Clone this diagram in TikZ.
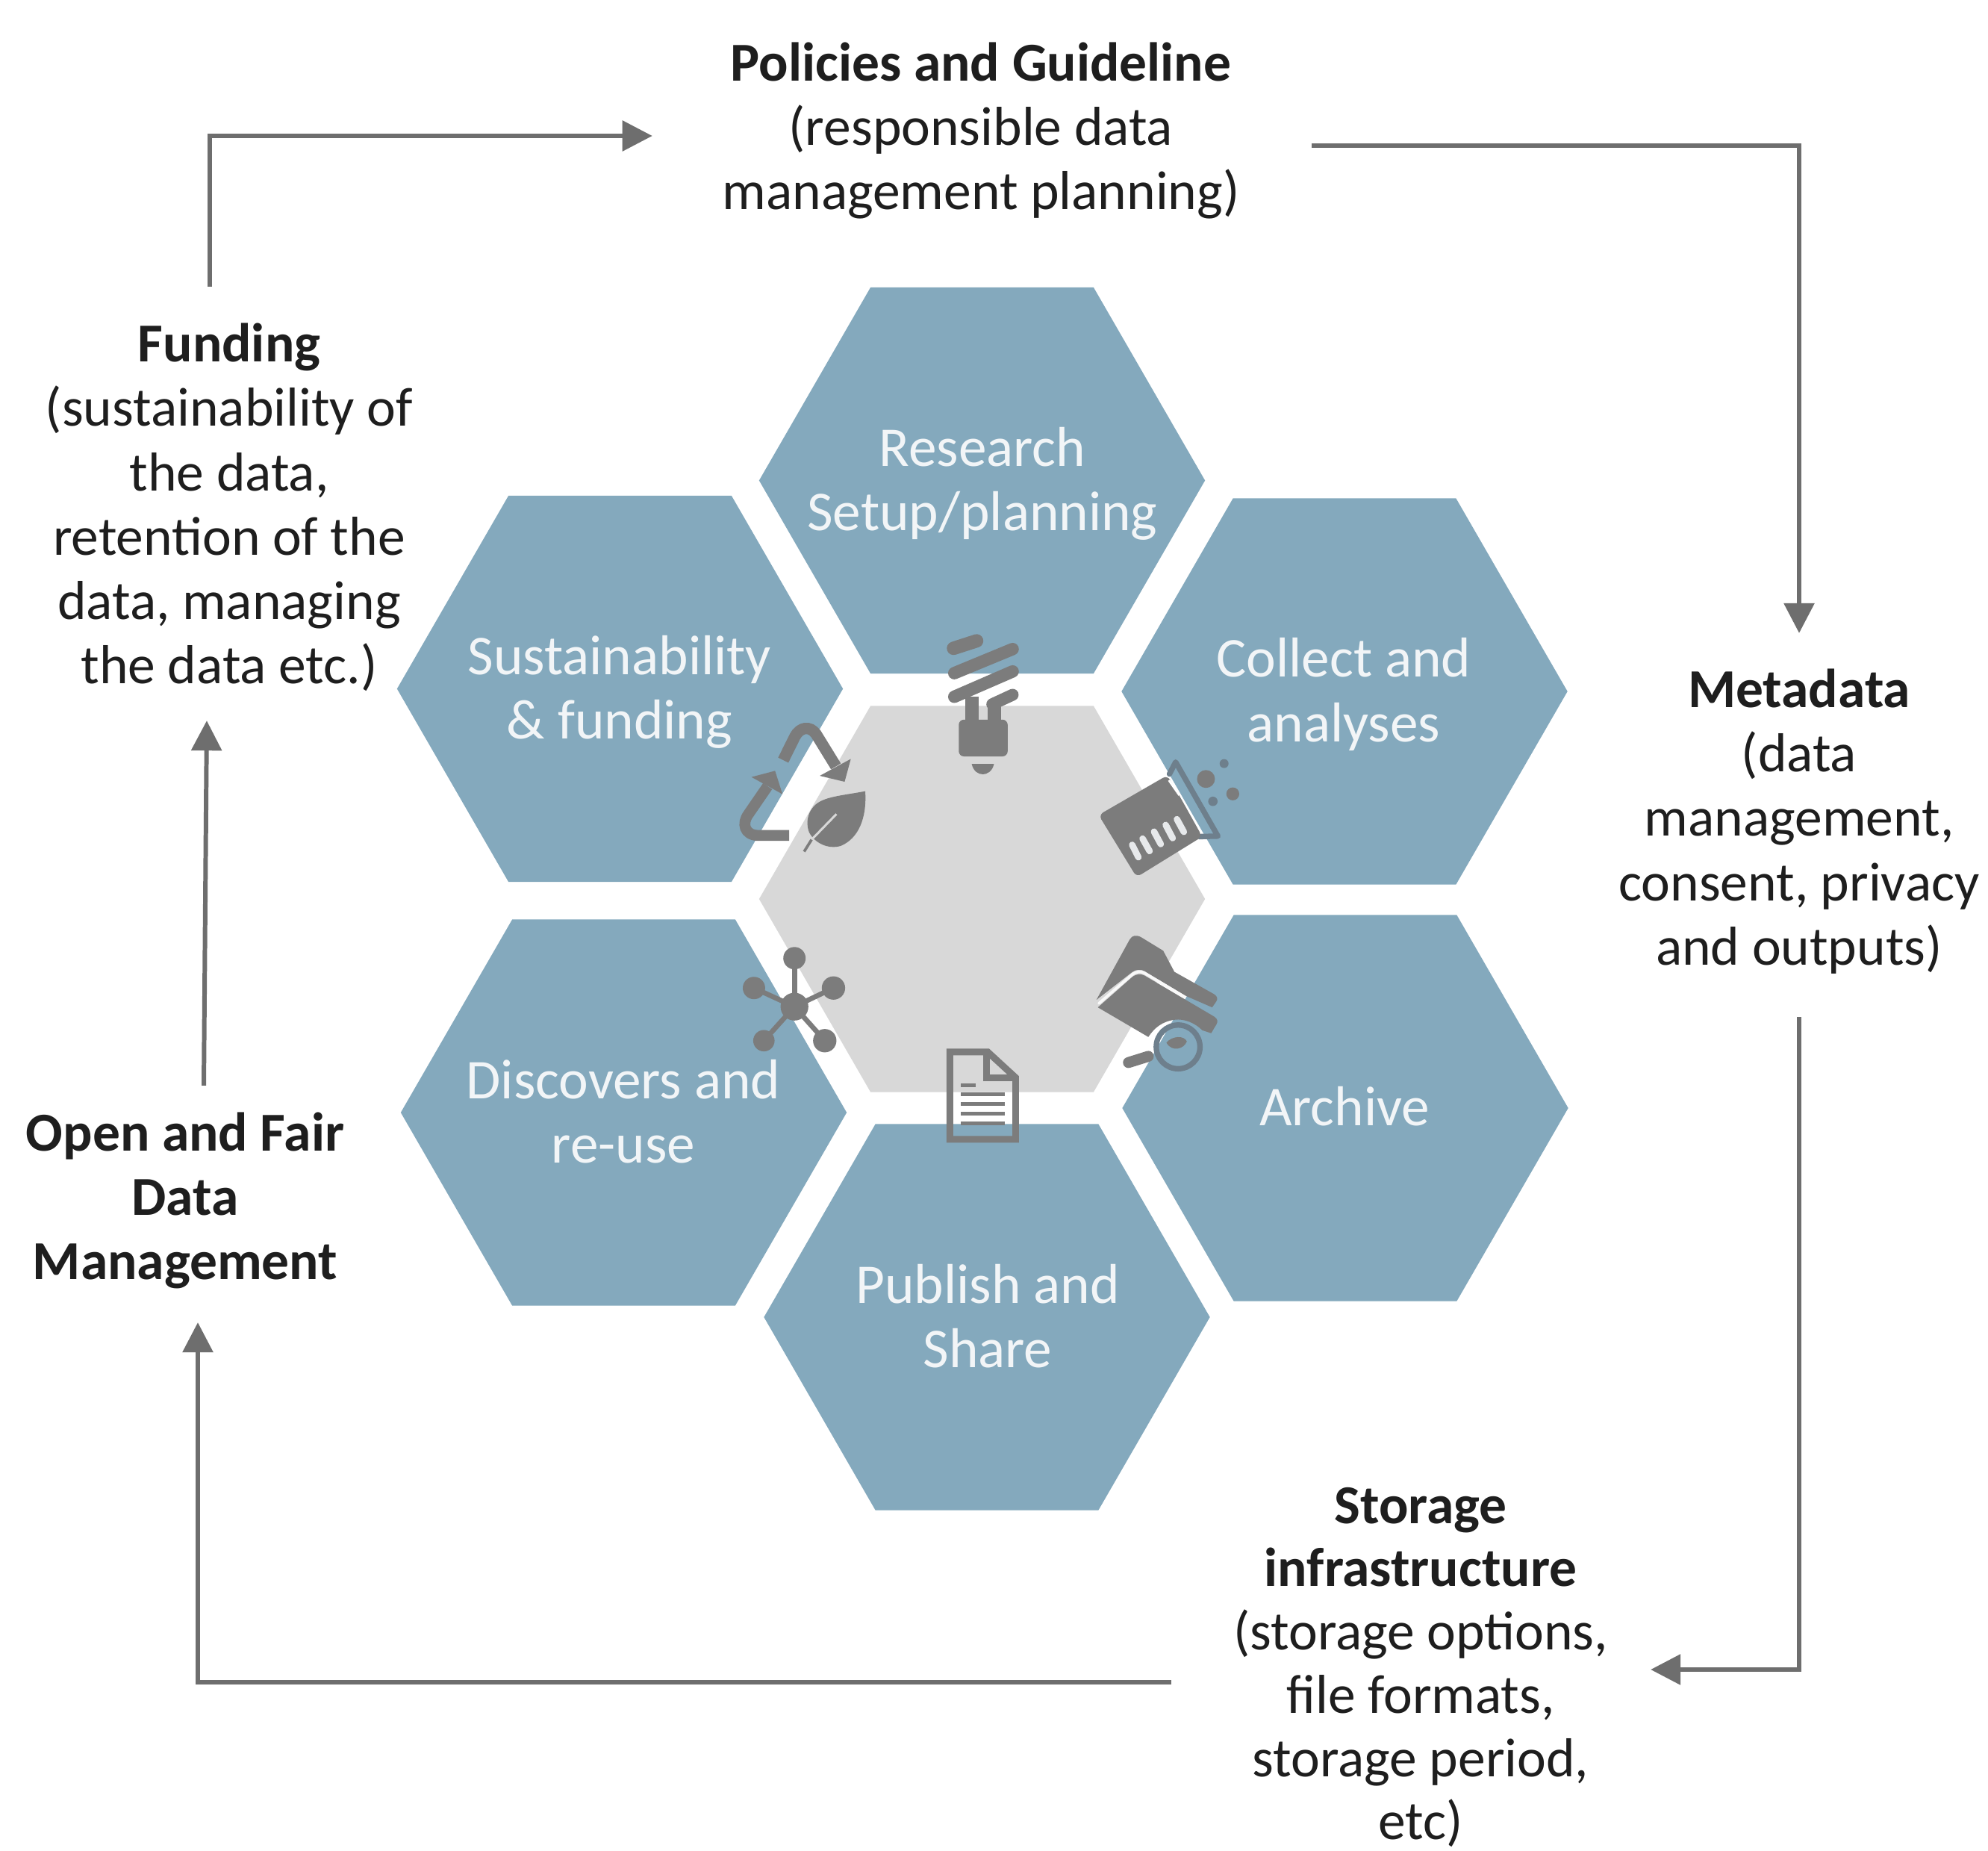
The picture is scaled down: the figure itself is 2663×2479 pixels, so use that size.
\documentclass[tikz,border=0pt]{standalone}
\usepackage{fontspec}
\setmainfont{Carlito}
\usetikzlibrary{shapes.geometric,arrows.meta,calc}
\definecolor{hexblue}{HTML}{84A9BD}
\definecolor{hexgray}{HTML}{D8D8D8}
\definecolor{icongray}{HTML}{7C7C7C}
\definecolor{icondark}{HTML}{6E7F8C}
\definecolor{arrowgray}{HTML}{6E6E6E}
\definecolor{hextext}{HTML}{F2F5F7}
\definecolor{bodytext}{HTML}{1E1E1E}
\tikzset{
  hexcell/.style={regular polygon,regular polygon sides=6,minimum size=5.97cm,inner sep=0pt,outer sep=0pt,draw=none,fill=#1},
  hexlabel/.style={align=center,inner sep=0pt,outer sep=0pt,text=hextext,font=\fontsize{21.4}{24.5}\selectfont},
  sidelabel/.style={align=center,inner sep=0pt,outer sep=0pt,text=bodytext,font=\fontsize{20.9}{24.5}\selectfont},
  flow/.style={draw=arrowgray,line width=1.7pt,-{Triangle[length=0.4cm,width=0.4cm]}},
  iconbox/.style={x=0.0033333cm,y=-0.0033333cm},
  zl/.style={line width=#1*0.0945pt},
  bar/.style={draw=icongray,line cap=round,zl=#1},
  stroke/.style={draw=icongray,zl=#1},
}
\begin{document}
\begin{tikzpicture}[x=0.01cm,y=-0.01cm]
\useasboundingbox (0,0) rectangle (2663,2479);
\fill[white] (0,0) rectangle (2663,2479);

% hexagons
\node[hexcell=hexgray] (hCore) at (1315.5,1204) {};
\node[hexcell=hexblue] (hResearch) at (1315.5,643.5) {};
\node[hexcell=hexblue] (hSustain) at (830.5,922.5) {};
\node[hexcell=hexblue] (hCollect) at (1801,926) {};
\node[hexcell=hexblue] (hDiscover) at (835.5,1490) {};
\node[hexcell=hexblue] (hArchive) at (1802,1484) {};
\node[hexcell=hexblue] (hPublish) at (1322,1764) {};

\node[hexlabel] (tResearch) at (1316,648) {Research\\Setup/planning};
\node[hexlabel] (tSustain) at (830,927) {Sustainability\\\&\ funding};
\node[hexlabel] (tCollect) at (1800,930) {Collect and\\analyses};
\node[hexlabel] (tDiscover) at (835,1489) {Discovers and\\re-use};
\node[hexlabel] (tArchive) at (1801,1482) {Archive};
\node[hexlabel] (tPublish) at (1323,1763) {Publish and\\Share};

% side labels
\node[sidelabel,minimum width=8.86cm,minimum height=2.9cm] (policies) at (1314,175)
  {\textbf{Policies and Guideline}\\(responsible data\\management planning)};
\node[sidelabel,minimum width=5.2cm,minimum height=5.91cm] (funding) at (307,679.5)
  {\textbf{Funding}\\(sustainability of\\the data,\\retention of the\\data, managing\\the data etc.)};
\node[sidelabel,minimum width=4.4cm,minimum height=3.36cm] (openfair) at (248,1608)
  {\textbf{Open and Fair}\\\textbf{Data}\\\textbf{Management}};
\node[sidelabel,minimum width=4.6cm,minimum height=5.1cm] (metadata) at (2410,1100)
  {\textbf{Metadata}\\(data\\management,\\consent, privacy\\and outputs)};
\node[sidelabel,font=\fontsize{20.9}{24.1}\selectfont,minimum width=6.16cm,minimum height=4.4cm] (storage) at (1903,2233)
  {\textbf{Storage}\\\textbf{infrastructure}\\(storage options,\\file formats,\\storage period,\\etc)};

% connectors
\draw[flow] ([xshift=-0.26cm]funding.north) |- ([xshift=0.03cm,yshift=-0.07cm]policies.west);
\draw[flow] ([yshift=-0.20cm]policies.east) -| ([yshift=-0.03cm]metadata.north);
\draw[flow] ([yshift=-0.07cm]metadata.south) |- ([yshift=-0.03cm]storage.east);
\draw[flow] ([xshift=-0.26cm,yshift=-0.20cm]storage.west) -| ([xshift=0.17cm,yshift=0.05cm]openfair.south);
\draw[flow] ([xshift=0.25cm,yshift=-0.14cm]openfair.north) -- ([xshift=-0.30cm,yshift=0.10cm]funding.south);

% recycle + leaf icon
\begin{scope}[shift={(960,840)},iconbox]
  \draw[stroke=46] (268,535) -- (315,440) .. controls (335,402) and (375,395) .. (400,430) -- (480,560);
  \fill[icongray] (540,530) -- (515,622) -- (415,598) -- cycle;
  \draw[stroke=44] (292,838) -- (165,838) .. controls (112,836) and (100,790) .. (128,752) -- (205,640);
  \fill[icongray] (140,603) -- (235,578) -- (265,672) -- cycle;
  \fill[icongray] (598,660) .. controls (520,675) and (450,680) .. (410,705)
     .. controls (370,730) and (355,780) .. (372,825)
     .. controls (395,870) and (450,895) .. (500,880)
     .. controls (570,850) and (605,770) .. cycle;
  \draw[hexgray,zl=9] (482,752) -- (382,855);
  \draw[icongray,zl=11] (382,855) -- (352,903);
\end{scope}

% bulb icon
\begin{scope}[shift={(1240,830)},iconbox]
  \draw[bar=54] (112,115) -- (205,85);
  \draw[bar=50] (115,215) -- (350,118);
  \draw[bar=50] (115,310) -- (350,208);
  \draw[bar=48] (268,340) -- (350,302);
  \fill[icongray] (160,310) rectangle (212,420);
  \fill[icongray] (250,330) rectangle (302,420);
  \fill[icongray,rounded corners=2pt] (133,402) -- (330,402) -- (330,550) -- (133,550) -- cycle;
  \fill[icongray] (185,580) -- (275,580) .. controls (268,612) and (245,622) .. (230,622) .. controls (212,622) and (192,610) .. cycle;
\end{scope}

% beaker icon
\begin{scope}[shift={(1460,1000)},iconbox]
  \draw[draw=icondark,zl=22,line cap=round,line join=round] (320,110) -- (345,62) -- (515,360) -- (440,362);
  \fill[icongray,rounded corners=2pt] (35,275) -- (312,115) -- (370,215) -- (452,362) -- (188,525) -- cycle;
  \draw[white,zl=9] (318,135) -- (360,195);
  \foreach \ax/\ay/\bx/\by in {170/395/195/445,212/370/240/420,258/342/285/392,305/315/333/368,350/292/378/343}
    \draw[draw=hextext!90!gray,zl=26,line cap=round] (\ax,\ay) -- (\bx,\by);
  \fill[icongray] (467,130) circle[radius=36];
  \fill[icongray] (575,190) circle[radius=26];
  \fill[icondark] (495,220) circle[radius=19];
  \fill[icondark] (540,68) circle[radius=18];
\end{scope}

% folder icon
\begin{scope}[shift={(1450,1240)},iconbox]
  \fill[icongray] (56,298) -- (190,55) .. controls (200,38) and (215,35) .. (235,45) -- (325,100) -- (370,185) -- (530,275)
     .. controls (545,285) and (545,295) .. (538,305) -- (522,328) -- (412,280) -- (250,182)
     .. controls (232,172) and (215,176) .. (200,186) -- cycle;
  \fill[icongray] (62,328) -- (200,206) .. controls (218,192) and (235,192) .. (250,200) -- (530,365)
     .. controls (545,375) and (545,385) .. (540,395) -- (518,432) -- (482,420)
     .. controls (455,392) and (410,372) .. (370,378) .. controls (320,385) and (290,410) .. (265,447) -- cycle;
  \draw[white!85!hexgray,zl=11,line cap=round] (66,312) -- (200,196) .. controls (218,182) and (235,182) .. (250,190) -- (412,286);
  \draw[draw=icondark,zl=22] (385,487) circle[radius=88];
  \fill[icongray] (338,470) .. controls (360,442) and (410,440) .. (420,465) .. controls (410,495) and (360,510) .. cycle;
  \draw[bar=44] (185,550) -- (265,525);
\end{scope}

% document icon
\begin{scope}[shift={(1250,1390)},iconbox]
  \draw[stroke=27,line join=miter] (67,57) -- (220,57) -- (332,160) -- (332,408) -- (67,408) -- cycle;
  \draw[stroke=27] (215,57) -- (215,160) -- (332,160);
  \draw[stroke=15] (112,190) -- (170,190);
  \foreach \ly in {228,267,306,345}
    \draw[stroke=15] (112,\ly) -- (288,\ly);
\end{scope}

% network icon
\begin{scope}[shift={(980,1250)},iconbox]
  \foreach \px/\py/\pr in {253/100/45,410/220/47,375/432/47,130/432/43,90/220/45}{
    \draw[stroke=20] (253,295) -- (\px,\py);
    \fill[icongray] (\px,\py) circle[radius=\pr];
  }
  \fill[icongray] (253,295) circle[radius=56];
\end{scope}
\end{tikzpicture}
\end{document}
